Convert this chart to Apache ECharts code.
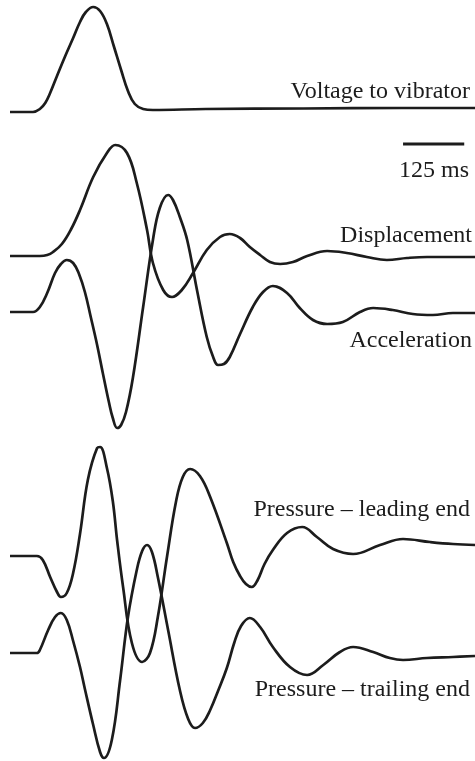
<!DOCTYPE html>
<html>
<head>
<meta charset="utf-8">
<script src="https://cdn.jsdelivr.net/npm/echarts@6/dist/echarts.min.js"></script>
<style>
  html, body { margin: 0; padding: 0; background: #fff; }
  #chart { width: 475px; height: 761px; }
</style>
</head>
<body>
<div id="chart"></div>
<script>
// Time samples (ms) and amplitudes (relative to each trace's resting level)
const voltageT = [0, 47, 61, 72, 82, 96, 112, 129, 143, 155, 170, 184, 198, 212, 227, 241, 255, 272, 292, 400, 600, 800, 950];
const voltageA = [0, 0, 3, 9, 19, 36, 55, 74, 90, 100, 105, 101, 88, 66, 42, 21, 8, 3, 2, 3, 3.5, 4, 4];

const displacementT = [0, 61, 76, 88, 106, 125, 143, 170, 198, 215, 239, 259, 280, 292, 313, 331, 351, 374, 402, 429, 449, 470, 490, 511, 531, 552, 578, 607, 648, 688, 729, 770, 811, 852, 905, 950];
const displacementA = [0, 0, 1, 4, 12, 27, 46, 79, 103, 111, 103, 73, 26, -7, -34, -41, -34, -17, 6, 19, 22, 18, 9, 1, -6, -8, -6, 0, 5, 3, -1, -4, -2, -1, -1, -1];

const accelerationT = [0, 47, 61, 76, 92, 104, 116, 129, 141, 153, 165, 178, 190, 202, 210, 219, 227, 237, 251, 272, 292, 306, 323, 333, 347, 362, 382, 402, 415, 425, 437, 449, 470, 496, 517, 537, 566, 592, 619, 648, 680, 715, 742, 782, 823, 864, 905, 950];
const accelerationA = [0, 0, 5, 19, 39, 48, 52, 49, 38, 20, -5, -33, -62, -90, -106, -116, -113, -100, -66, 5, 72, 104, 117, 112, 95, 72, 22, -25, -45, -53, -52, -45, -22, 5, 20, 26, 19, 4, -8, -12, -10, 0, 4, 2, -2, -3, -1, -1];

const leadingT = [0, 55, 67, 82, 96, 104, 116, 129, 143, 159, 178, 184, 198, 210, 219, 231, 249, 270, 286, 302, 321, 339, 353, 368, 388, 409, 443, 456, 470, 482, 494, 506, 520, 537, 566, 597, 627, 660, 701, 756, 803, 858, 905, 950];
const leadingA = [0, 0, -4, -21, -36, -41, -37, -17, 22, 76, 108, 109, 88, 55, 15, -31, -87, -106, -97, -61, 0, 54, 79, 87, 80, 59, 13, -6, -20, -28, -31, -24, -8, 6, 23, 29, 19, 7, 2, 11, 17, 14, 12, 11];

const trailingT = [0, 55, 61, 78, 92, 104, 116, 129, 143, 153, 170, 184, 192, 208, 225, 241, 259, 270, 280, 290, 302, 323, 347, 364, 378, 394, 409, 425, 443, 458, 472, 490, 511, 537, 572, 607, 640, 674, 701, 742, 776, 803, 852, 905, 950];
const trailingA = [0, 0, 3, 23, 36, 40, 33, 12, -14, -36, -72, -99, -105, -87, -27, 36, 83, 102, 108, 101, 76, 23, -37, -66, -75, -70, -57, -38, -15, 10, 27, 35, 26, 6, -14, -22, -12, 1, 6, 1, -5, -7, -5, -4, -3];

// Scale bar span (ms)
const scaleBarT = [803, 928];

// Trace labels
const labels = ['Voltage to vibrator', 'Displacement', 'Acceleration', 'Pressure \u2013 leading end', 'Pressure \u2013 trailing end'];
const scaleLabel = '125 ms';

// Resting level of each trace on the vertical axis
const restLevel = { voltage: 649, displacement: 505, acceleration: 449, leading: 205, trailing: 108 };
const scaleBarLevel = 617;

const INK = '#1c1c1c';
const FONT = '24px "Liberation Serif", "Times New Roman", serif';

function trace(ts, as, base) {
  return ts.map((t, i) => [t, base + as[i]]);
}

function lineSeries(data, width, smooth) {
  return {
    type: 'line',
    data: data,
    smooth: smooth,
    showSymbol: false,
    silent: true,
    lineStyle: { color: INK, width: width },
    z: 2
  };
}

function label(text, right, top) {
  return { type: 'text', right: right, top: top, style: { text: text, fill: INK, font: FONT } };
}

const chart = echarts.init(document.getElementById('chart'), null, { renderer: 'canvas' });

chart.setOption({
  animation: false,
  backgroundColor: '#ffffff',
  grid: { left: 10, right: 0, top: 0, bottom: 0 },
  xAxis: { type: 'value', min: 0, max: 950, show: false },
  yAxis: { type: 'value', min: 0, max: 761, show: false },
  series: [
    lineSeries(trace(voltageT, voltageA, restLevel.voltage), 2.7, 0.4),
    lineSeries(trace(displacementT, displacementA, restLevel.displacement), 2.7, 0.4),
    lineSeries(trace(accelerationT, accelerationA, restLevel.acceleration), 2.7, 0.4),
    lineSeries(trace(leadingT, leadingA, restLevel.leading), 2.7, 0.4),
    lineSeries(trace(trailingT, trailingA, restLevel.trailing), 2.7, 0.4),
    lineSeries(scaleBarT.map(t => [t, scaleBarLevel]), 3.2, false)
  ],
  graphic: [
    label(labels[0], 5, 80),
    label(scaleLabel, 6, 159),
    label(labels[1], 3, 224),
    label(labels[2], 3, 329),
    label(labels[3], 5, 498),
    label(labels[4], 5, 678)
  ]
});
</script>
</body>
</html>
